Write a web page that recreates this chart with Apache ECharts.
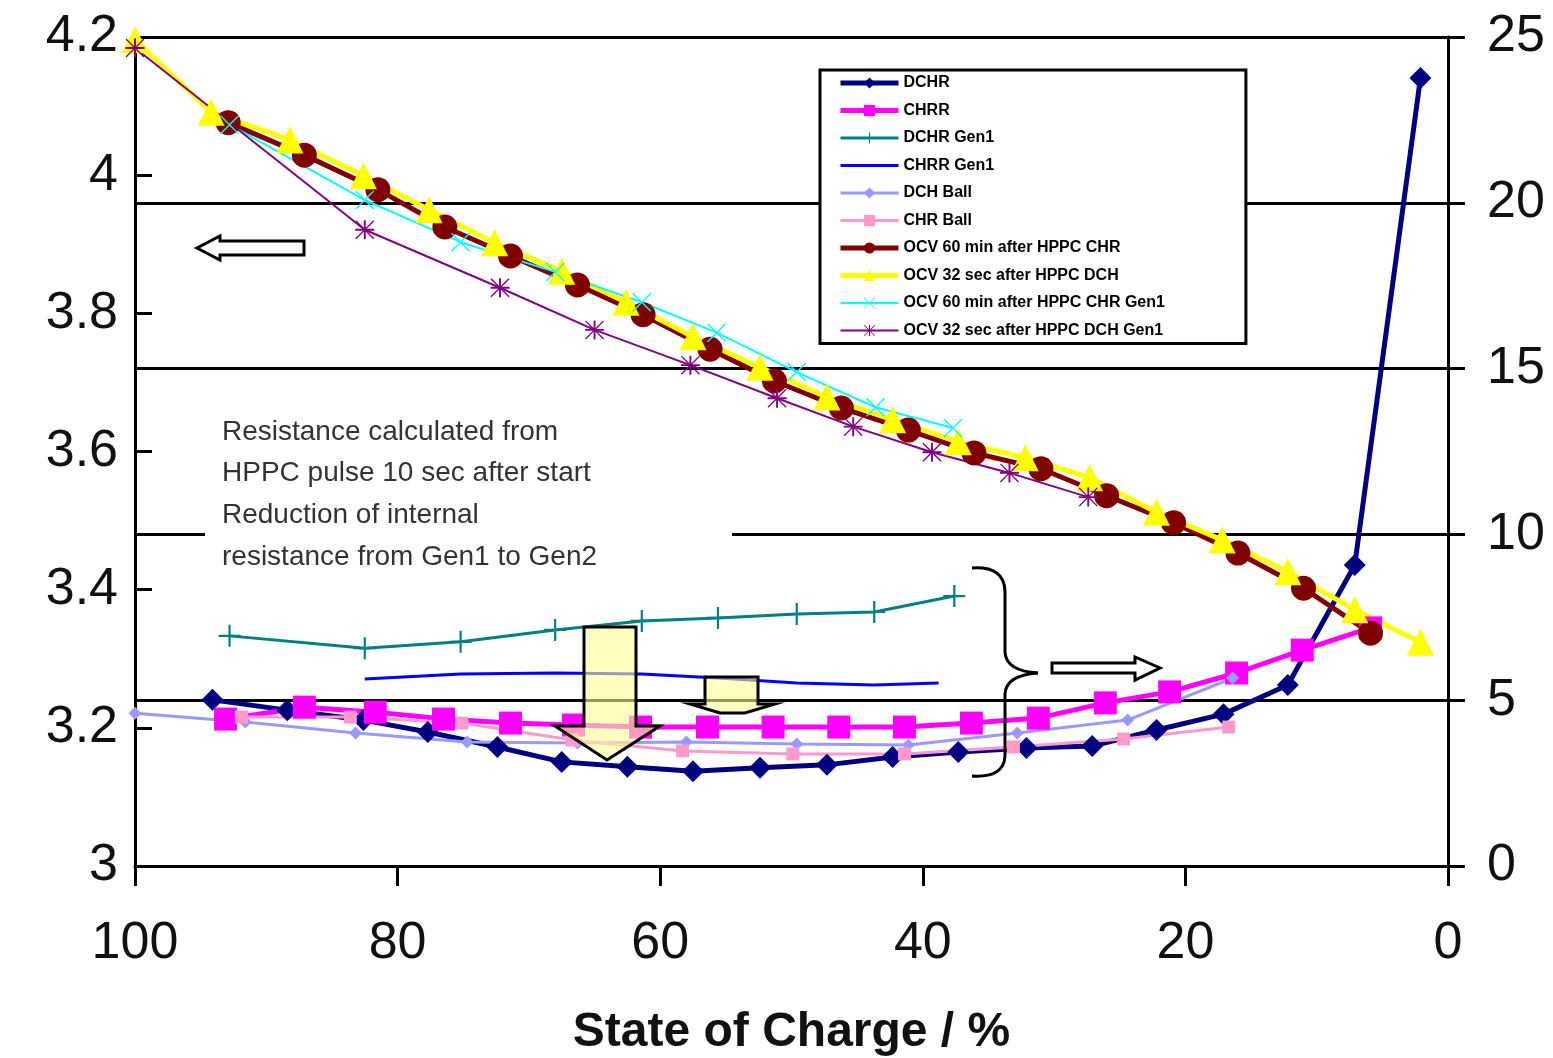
<!DOCTYPE html>
<html>
<head>
<meta charset="utf-8">
<title>State of Charge</title>
<script src="https://cdn.jsdelivr.net/npm/echarts@6/dist/echarts.min.js"></script>
<style>
  html, body { margin: 0; padding: 0; background: #fff; }
  #chart { width: 1553px; height: 1058px; }
</style>
</head>
<body>
<div id="chart"></div>
<script>
// state of charge (%) and values
const socDCHR = [94.1, 88.4, 82.6, 77.7, 72.4, 67.5, 62.5, 57.5, 52.4, 47.3, 42.3, 37.3, 32.1, 27.1, 22.2, 17.1, 12.2, 7.1, 2.1];
const dchr    = [5.01, 4.70, 4.40, 4.04, 3.59, 3.14, 2.99, 2.86, 2.96, 3.05, 3.29, 3.44, 3.56, 3.62, 4.10, 4.58, 5.46, 9.08, 23.76];

const socCHRR = [93.1, 87.1, 81.7, 76.5, 71.4, 66.6, 61.5, 56.4, 51.4, 46.4, 41.4, 36.3, 31.2, 26.1, 21.2, 16.1, 11.1, 5.9];
const chrr    = [4.43, 4.79, 4.64, 4.43, 4.31, 4.25, 4.19, 4.19, 4.19, 4.19, 4.19, 4.31, 4.46, 4.92, 5.25, 5.82, 6.51, 7.18];

const socGen1   = [92.8, 82.5, 75.2, 68.0, 61.4, 55.6, 49.6, 43.7, 37.6];
const dchrGen1  = [6.94, 6.57, 6.76, 7.12, 7.39, 7.48, 7.60, 7.66, 8.14];
const socCHRGen1 = [82.5, 75.2, 68.0, 61.4, 55.6, 49.6, 43.7, 38.8];
const chrrGen1   = [5.64, 5.79, 5.82, 5.79, 5.67, 5.52, 5.46, 5.52];

const socDCHBall = [100, 91.6, 83.2, 74.7, 66.3, 58.0, 49.6, 41.1, 32.8, 24.4, 16.4];
const dchBall    = [4.61, 4.34, 4.01, 3.74, 3.71, 3.74, 3.68, 3.65, 4.01, 4.40, 5.67];
const socCHRBall = [91.9, 83.6, 75.1, 66.7, 58.3, 49.9, 41.4, 33.1, 24.7, 16.7];
const chrBall    = [4.49, 4.49, 4.31, 3.80, 3.47, 3.38, 3.38, 3.59, 3.83, 4.19];

const socOcvChr = [92.9, 87.1, 81.5, 76.4, 71.4, 66.3, 61.3, 56.2, 51.3, 46.2, 41.1, 36.1, 31.0, 26.0, 20.9, 16.0, 11.0, 5.9];
const ocvChr    = [4.076, 4.029, 3.979, 3.925, 3.883, 3.841, 3.798, 3.748, 3.702, 3.663, 3.631, 3.598, 3.575, 3.536, 3.497, 3.453, 3.402, 3.337];

const socOcvDch = [100, 94.2, 88.2, 82.6, 77.6, 72.6, 67.5, 62.6, 57.5, 52.4, 47.3, 42.3, 37.3, 32.2, 27.3, 22.2, 17.2, 12.2, 7.1, 2.1];
const ocvDch    = [4.196, 4.091, 4.051, 3.999, 3.950, 3.902, 3.861, 3.816, 3.766, 3.722, 3.679, 3.646, 3.614, 3.591, 3.562, 3.512, 3.472, 3.426, 3.371, 3.324];

const socOcvChrGen1 = [92.8, 82.5, 75.2, 68.0, 61.4, 55.7, 49.6, 43.6, 37.7];
const ocvChrGen1    = [4.073, 3.964, 3.903, 3.860, 3.816, 3.772, 3.715, 3.664, 3.634];

const socOcvDchGen1 = [100, 82.5, 72.2, 65.0, 57.7, 51.1, 45.3, 39.3, 33.4, 27.4];
const ocvDchGen1    = [4.184, 3.921, 3.837, 3.776, 3.725, 3.677, 3.636, 3.599, 3.569, 3.534];

const seriesNames = ['DCHR', 'CHRR', 'DCHR Gen1', 'CHRR Gen1', 'DCH Ball', 'CHR Ball',
  'OCV 60 min after HPPC CHR', 'OCV 32 sec after HPPC DCH',
  'OCV 60 min after HPPC CHR Gen1', 'OCV 32 sec after HPPC DCH Gen1'];

const xTicks = { min: 0, max: 100, interval: 20 };

const FONT = "'Liberation Sans', Arial, sans-serif";

// marker shapes
const PLUS = 'path://M9,0h2v9h9v2h-9v9h-2v-9h-9v-2h9z';
const CROSS = 'path://M0,1L1,0L10,9L19,0L20,1L11,10L20,19L19,20L10,11L1,20L0,19L9,10Z';
const STAR = 'path://M0,1L1,0L10,9L19,0L20,1L11,10L20,19L19,20L10,11L1,20L0,19L9,10Z M9,0h2v20h-2z M0,9h20v2h-20z';
const BAR = 'path://M0,0h58v3h-58z';

function pairs(xs, ys) {
  return xs.map((x, i) => [x, ys[i]]);
}

function line(name, data, yAxisIndex, color, symbol, size, width) {
  return {
    name: name,
    type: 'line',
    yAxisIndex: yAxisIndex,
    data: data,
    symbol: symbol,
    symbolSize: size,
    showSymbol: symbol !== 'none',
    itemStyle: { color: color },
    lineStyle: { color: color, width: width },
    emphasis: { disabled: true },
    animation: false
  };
}

const black3 = { fill: 'none', stroke: '#000', lineWidth: 3 };
const noteText = (y, text) => ({
  type: 'text', x: 222, y: y, z: 11,
  style: { text: text, font: '28px ' + FONT, fill: '#333', verticalAlign: 'middle' }
});

const chart = echarts.init(document.getElementById('chart'));

chart.setOption({
  backgroundColor: '#fff',
  animation: false,
  textStyle: { fontFamily: FONT },
  grid: { left: 135, right: 105, top: 37, bottom: 192, outerBoundsMode: 'none', containLabel: false },
  legend: {
    data: seriesNames.map(n => n === 'CHRR Gen1' ? { name: n, icon: BAR } : n),
    orient: 'vertical',
    left: 820,
    top: 70,
    itemWidth: 58,
    itemHeight: 14,
    itemGap: 11.5,
    padding: [5, 81, 5, 18],
    backgroundColor: '#fff',
    borderColor: '#000',
    borderWidth: 3,
    borderRadius: 0,
    z: 20,
    lineStyle: { width: 'inherit' },
    textStyle: { fontFamily: FONT, fontSize: 16, fontWeight: 'bold', color: '#000' }
  },
  xAxis: {
    type: 'value',
    inverse: true,
    min: xTicks.min,
    max: xTicks.max,
    interval: xTicks.interval,
    name: 'State of Charge / %',
    nameLocation: 'middle',
    nameGap: 143,
    nameTextStyle: { fontFamily: FONT, fontSize: 48, fontWeight: 'bold', color: '#111' },
    axisLine: { onZero: false, lineStyle: { color: '#000', width: 3 } },
    axisTick: { inside: false, length: 20, lineStyle: { color: '#000', width: 3 } },
    axisLabel: { margin: 52, fontSize: 52, color: '#111', fontFamily: FONT },
    splitLine: { show: false }
  },
  yAxis: [
    {
      type: 'value',
      position: 'left',
      min: 3,
      max: 4.2,
      interval: 0.2,
      axisLine: { show: true, onZero: false, lineStyle: { color: '#000', width: 3 } },
      axisTick: { show: true, inside: true, length: 17, lineStyle: { color: '#000', width: 3 } },
      axisLabel: {
        margin: 17, fontSize: 52, color: '#111', fontFamily: FONT,
        formatter: v => String(+v.toFixed(1))
      },
      splitLine: { show: false }
    },
    {
      type: 'value',
      position: 'right',
      min: 0,
      max: 25,
      interval: 5,
      axisLine: { show: true, onZero: false, lineStyle: { color: '#000', width: 3 } },
      axisTick: { show: true, inside: false, length: 17, lineStyle: { color: '#000', width: 3 } },
      axisLabel: { margin: 39, fontSize: 52, color: '#111', fontFamily: FONT },
      splitLine: { show: true, lineStyle: { color: '#000', width: 3 } }
    }
  ],
  graphic: [
    // text box
    { type: 'rect', z: 10, shape: { x: 205, y: 410, width: 527, height: 168 }, style: { fill: '#fff' } },
    noteText(432, 'Resistance calculated from'),
    noteText(473, 'HPPC pulse 10 sec after start'),
    noteText(515, 'Reduction of internal'),
    noteText(557, 'resistance from Gen1 to Gen2'),
    // left hollow arrow
    {
      type: 'polygon', z: 10,
      shape: { points: [[304, 241], [220, 241], [220, 236], [197, 248], [220, 260], [220, 255], [304, 255]] },
      style: { fill: '#fff', stroke: '#000', lineWidth: 3 }
    },
    // right hollow arrow
    {
      type: 'polygon', z: 10,
      shape: { points: [[1052, 663], [1135, 663], [1135, 657], [1160, 668], [1135, 680], [1135, 673], [1052, 673]] },
      style: { fill: '#fff', stroke: '#000', lineWidth: 3 }
    },
    // brace
    { type: 'bezierCurve', z: 10, shape: { x1: 972, y1: 568, cpx1: 1005, cpy1: 566, x2: 1005, y2: 592 }, style: black3 },
    { type: 'line', z: 10, shape: { x1: 1005, y1: 592, x2: 1005, y2: 652 }, style: black3 },
    { type: 'bezierCurve', z: 10, shape: { x1: 1005, y1: 652, cpx1: 1006, cpy1: 671, x2: 1038, y2: 673 }, style: black3 },
    { type: 'bezierCurve', z: 10, shape: { x1: 1038, y1: 673, cpx1: 1006, cpy1: 675, x2: 1005, y2: 694 }, style: black3 },
    { type: 'line', z: 10, shape: { x1: 1005, y1: 694, x2: 1005, y2: 756 }, style: black3 },
    { type: 'bezierCurve', z: 10, shape: { x1: 1005, y1: 756, cpx1: 1004, cpy1: 778, x2: 972, y2: 776 }, style: black3 },
    // big down arrow
    {
      type: 'polygon', z: 15,
      shape: { points: [[584, 627], [636, 627], [636, 726], [660, 726], [607, 760], [555, 726], [584, 726]] },
      style: { fill: 'rgba(255,255,150,0.6)', stroke: '#000', lineWidth: 3 }
    },
    // small down arrow
    {
      type: 'polygon', z: 15,
      shape: { points: [[705, 677], [758, 677], [758, 704], [775, 704], [745, 713], [720, 713], [690, 704], [705, 704]] },
      style: { fill: 'rgba(255,255,150,0.6)', stroke: '#000', lineWidth: 3 }
    }
  ],
  series: [
    line(seriesNames[0], pairs(socDCHR, dchr), 1, '#000080', 'diamond', 22, 5),
    line(seriesNames[1], pairs(socCHRR, chrr), 1, '#ff00ff', 'rect', 23, 5),
    line(seriesNames[2], pairs(socGen1, dchrGen1), 1, '#008080', PLUS, 22, 3),
    line(seriesNames[3], pairs(socCHRGen1, chrrGen1), 1, '#0000ff', 'none', 0, 3),
    line(seriesNames[4], pairs(socDCHBall, dchBall), 1, '#9999ff', 'diamond', 13, 3),
    line(seriesNames[5], pairs(socCHRBall, chrBall), 1, '#ff99cc', 'rect', 13, 3),
    line(seriesNames[6], pairs(socOcvChr, ocvChr), 0, '#800000', 'circle', 25, 5),
    line(seriesNames[7], pairs(socOcvDch, ocvDch), 0, '#ffff00', 'triangle', 27, 5),
    line(seriesNames[8], pairs(socOcvChrGen1, ocvChrGen1), 0, '#00ffff', CROSS, 19, 2),
    line(seriesNames[9], pairs(socOcvDchGen1, ocvDchGen1), 0, '#800080', STAR, 19, 2)
  ]
});
</script>
</body>
</html>
